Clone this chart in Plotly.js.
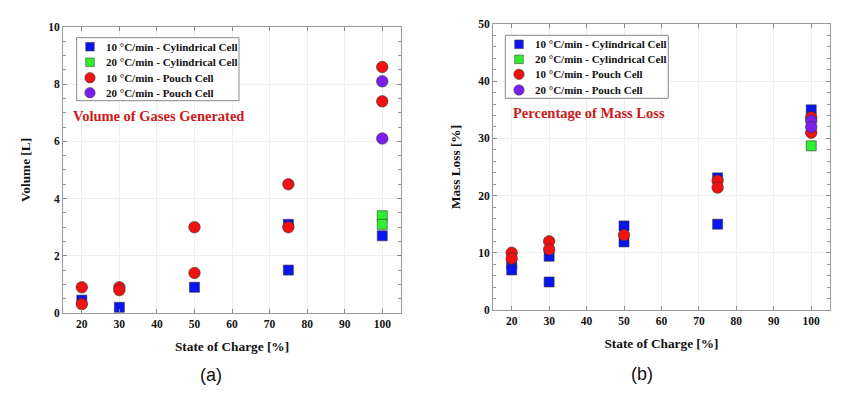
<!DOCTYPE html>
<html><head><meta charset="utf-8">
<script src="https://cdn.plot.ly/plotly-3.0.1.min.js"></script>
<style>html,body{margin:0;padding:0;background:#fff}</style>
</head><body><div id="chart" style="width:845px;height:393px"></div>
<script>
// ---- data ----
const seriesNames = ["10 °C/min - Cylindrical Cell","20 °C/min - Cylindrical Cell","10 °C/min - Pouch Cell","20 °C/min - Pouch Cell"];
// (a) Volume of gases generated [L]
const volCyl10X = [20, 30, 50, 75, 75, 100];
const volCyl10Y = [0.45, 0.2, 0.9, 3.1, 1.5, 2.7];
const volCyl20X = [100, 100];
const volCyl20Y = [3.4, 3.1];
const volPouch10X = [20, 20, 30, 30, 50, 50, 75, 75, 100, 100];
const volPouch10Y = [0.9, 0.31, 0.9, 0.8, 3.0, 1.4, 4.5, 3.0, 8.6, 7.4];
const volPouch20X = [100, 100];
const volPouch20Y = [8.1, 6.1];
// (b) Percentage of mass loss [%]
const mlCyl10X = [20, 20, 30, 30, 50, 50, 75, 75, 100];
const mlCyl10Y = [8.0, 7.0, 9.4, 4.9, 14.7, 11.9, 23.1, 15.0, 35.0];
const mlCyl20X = [100];
const mlCyl20Y = [28.7];
const mlPouch10X = [20, 20, 30, 30, 50, 75, 75, 100, 100];
const mlPouch10Y = [10.0, 9.0, 12.0, 10.6, 13.1, 22.6, 21.4, 33.7, 31.0];
const mlPouch20X = [100, 100];
const mlPouch20Y = [33.1, 32.0];
const xTicks = [20, 30, 40, 50, 60, 70, 80, 90, 100];

const colors = ["#0a14f0", "#2ff02f", "#f21010", "#7a1ff0"];
const symbols = ["square", "square", "circle", "circle"];
const sizes = [10, 10, 11.5, 11.5];
const serif = "Liberation Serif, Times New Roman, serif";

function tr(x, y, i, xa, ya) {
  return {x: x, y: y, type: "scatter", mode: "markers", name: seriesNames[i],
    xaxis: xa, yaxis: ya, showlegend: false,
    marker: {symbol: symbols[i], size: sizes[i], color: colors[i], line: {color: "#333", width: 0.6}}};
}
const data = [
  tr(volCyl10X, volCyl10Y, 0, "x", "y"),
  tr(volCyl20X, volCyl20Y, 1, "x", "y"),
  tr(volPouch10X, volPouch10Y, 2, "x", "y"),
  tr(volPouch20X, volPouch20Y, 3, "x", "y"),
  tr(mlCyl10X, mlCyl10Y, 0, "x2", "y2"),
  tr(mlCyl20X, mlCyl20Y, 1, "x2", "y2"),
  tr(mlPouch10X, mlPouch10Y, 2, "x2", "y2"),
  tr(mlPouch20X, mlPouch20Y, 3, "x2", "y2")
];

const tickFont = {family: serif, size: 11.5, color: "#111", weight: "bold"};
const titleFont = {family: serif, size: 13.3, color: "#111", weight: "bold"};
function xax(domain, anchor) {
  return {domain: domain, anchor: anchor, range: [15, 105], tickvals: xTicks,
    ticks: "inside", ticklen: 4, tickcolor: "#888", mirror: "ticks", showline: true,
    linecolor: "#999", linewidth: 1, showgrid: true, gridcolor: "#eeeeee", zeroline: false,
    tickfont: tickFont, title: {text: "State of Charge [%]", font: titleFont, standoff: 12}};
}
function yax(domain, anchor, range, dtick, minor, title) {
  return {domain: domain, anchor: anchor, range: range, dtick: dtick,
    ticks: "inside", ticklen: 4, tickcolor: "#888", mirror: "ticks", showline: true,
    linecolor: "#999", linewidth: 1, showgrid: true, gridcolor: "#eeeeee", zeroline: false,
    minor: {dtick: minor, ticks: "inside", ticklen: 3, tickcolor: "#999", showgrid: false},
    tickfont: tickFont, title: {text: title, font: titleFont, standoff: 14}};
}

// custom legends (paper pixel positions)
const W = 845, H = 393;
const shapes = [];
const annotations = [];
function legendBox(x0, x1, y0, y1, markX, textX, rows) {
  shapes.push({type: "rect", xref: "paper", yref: "paper", x0: x0 / W, x1: x1 / W,
    y0: 1 - y1 / H, y1: 1 - y0 / H, line: {color: "#888", width: 1}, fillcolor: "#fff", layer: "above"});
  rows.forEach(function (ry, i) {
    const r = (i < 2) ? 4.3 : 5.2;
    shapes.push({type: i < 2 ? "rect" : "circle", xref: "paper", yref: "paper",
      x0: (markX - r) / W, x1: (markX + r) / W, y0: 1 - (ry + r) / H, y1: 1 - (ry - r) / H,
      fillcolor: colors[i], line: {color: "#444", width: 0.6}, layer: "above"});
    annotations.push({text: seriesNames[i], xref: "paper", yref: "paper", x: textX / W, y: 1 - ry / H,
      xanchor: "left", yanchor: "middle", showarrow: false,
      font: {family: serif, size: 11, color: "#111", weight: "bold"}});
  });
}
legendBox(76.7, 239, 37.7, 100.7, 90, 104, [46.7, 62.3, 77.7, 92.7]);
legendBox(505.3, 668.3, 35.3, 98.3, 519, 533, [44.3, 59.3, 74.3, 90]);

annotations.push(
  {text: "Volume of Gases Generated", xref: "paper", yref: "paper", x: 71 / W, y: 1 - 116 / H,
    xanchor: "left", yanchor: "middle", showarrow: false,
    font: {family: serif, size: 14.5, color: "#cc1a1a", weight: "bold"}},
  {text: "Percentage of Mass Loss", xref: "paper", yref: "paper", x: 511 / W, y: 1 - 113 / H,
    xanchor: "left", yanchor: "middle", showarrow: false,
    font: {family: serif, size: 14.5, color: "#cc1a1a", weight: "bold"}},
  {text: "(a)", xref: "paper", yref: "paper", x: 211 / W, y: 1 - 375 / H,
    xanchor: "center", yanchor: "middle", showarrow: false,
    font: {family: "Liberation Sans, Arial, sans-serif", size: 18, color: "#111"}},
  {text: "(b)", xref: "paper", yref: "paper", x: 642 / W, y: 1 - 374 / H,
    xanchor: "center", yanchor: "middle", showarrow: false,
    font: {family: "Liberation Sans, Arial, sans-serif", size: 18, color: "#111"}}
);

const layout = {
  width: W, height: H, margin: {l: 0, r: 0, t: 0, b: 0},
  paper_bgcolor: "#fff", plot_bgcolor: "#fff", showlegend: false,
  xaxis: xax([0.0746, 0.4746], "y"),
  yaxis: yax([0.2036, 0.9313], "x", [0, 10], 2, 0.5, "Volume [L]"),
  xaxis2: xax([0.5834, 0.9822], "y2"),
  yaxis2: yax([0.2112, 0.9389], "x2", [0, 50], 10, 2, "Mass Loss [%]"),
  shapes: shapes,
  annotations: annotations
};
Plotly.newPlot("chart", data, layout, {displayModeBar: false, staticPlot: true});
</script>
</body></html>
